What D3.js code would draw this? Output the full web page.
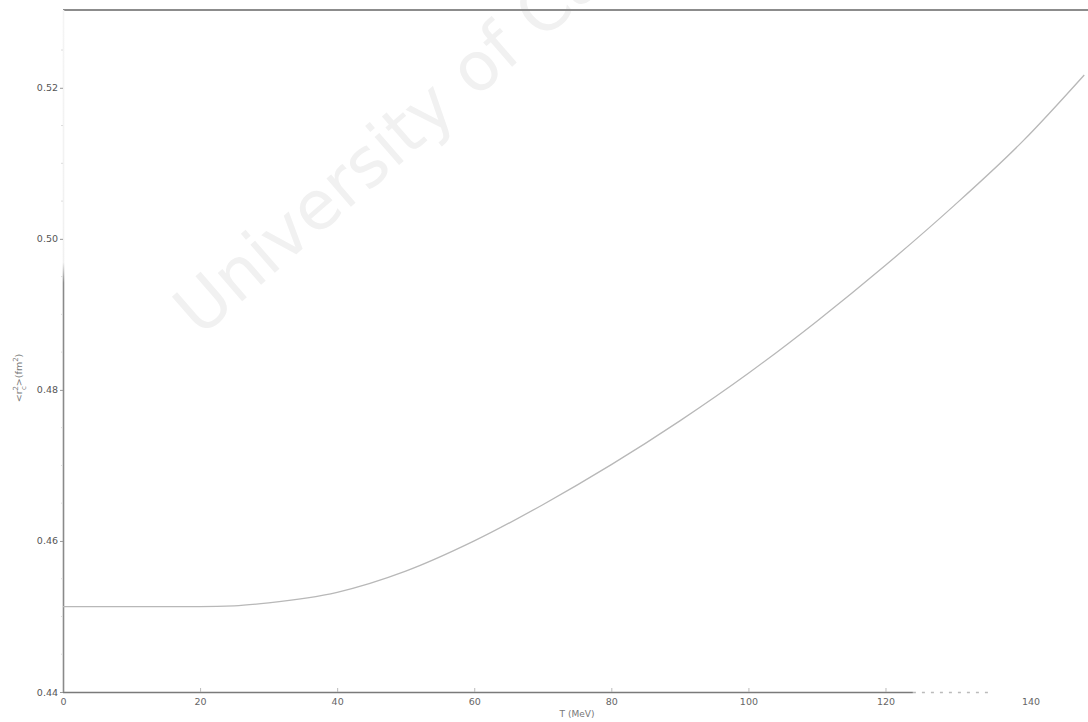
<!DOCTYPE html>
<html>
<head>
<meta charset="utf-8">
<script src="https://cdn.jsdelivr.net/npm/d3@7"></script>
<style>
  html, body { margin: 0; padding: 0; background: #fff; }
  svg { display: block; }
  text { font-family: "DejaVu Sans", sans-serif; }
</style>
</head>
<body>
<svg id="chart" width="1088" height="722"></svg>
<script>
// Mean square charge radius against temperature
const temperature = [0, 10, 20, 25, 30, 40, 50, 60, 70, 80, 90, 100, 110, 120, 130, 140, 149];
const radiusSq   = [0.4513, 0.4513, 0.4513, 0.4514, 0.4518, 0.4532, 0.4560, 0.4600, 0.4648,
                    0.4701, 0.4759, 0.4822, 0.4891, 0.4965, 0.5044, 0.5129, 0.5217];
const xTicks = [0, 20, 40, 60, 80, 100, 120, 140];
const yTicks = [0.44, 0.46, 0.48, 0.50, 0.52];
const yMinorTicks = [0.445, 0.45, 0.455, 0.465, 0.47, 0.475, 0.485, 0.49, 0.495, 0.505, 0.51, 0.515, 0.525];

const svg = d3.select("#chart");
const plotLeft = 63, plotRight = 1087, plotTop = 10, plotBottom = 692;

const x = d3.scaleLinear().domain([0, 149.4]).range([plotLeft, plotRight]);
const y = d3.scaleLinear().domain([0.44, 0.5303]).range([plotBottom, plotTop]);

// faint diagonal watermark
svg.append("text")
  .attr("transform", "translate(200,338) rotate(-41)")
  .attr("font-size", 68)
  .attr("fill", "#f1f1f1")
  .attr("font-family", "Liberation Sans, Arial, sans-serif")
  .text("University of Cape Town");

// left axis line fades toward the top
const defs = svg.append("defs");
const grad = defs.append("linearGradient")
  .attr("id", "leftFade").attr("gradientUnits", "userSpaceOnUse")
  .attr("x1", 0).attr("y1", plotTop).attr("x2", 0).attr("y2", plotBottom);
grad.append("stop").attr("offset", "0").attr("stop-color", "#f4f4f4");
grad.append("stop").attr("offset", "0.37").attr("stop-color", "#f0f0f0");
grad.append("stop").attr("offset", "0.40").attr("stop-color", "#8a8a8a");
grad.append("stop").attr("offset", "1").attr("stop-color", "#8a8a8a");

// top frame line
svg.append("line")
  .attr("x1", plotLeft).attr("x2", 1088).attr("y1", plotTop).attr("y2", plotTop)
  .attr("stroke", "#8c8c8c").attr("stroke-width", 2);

// bottom axis
const xAxis = d3.axisBottom(x).tickValues(xTicks).tickSize(-4).tickPadding(6)
  .tickFormat(d3.format("d"));
const gx = svg.append("g").attr("transform", `translate(0,${plotBottom})`).call(xAxis);
gx.select(".domain").attr("d", `M${plotLeft},0.5H${x(124)}`).attr("stroke", "#7a7a7a").attr("stroke-width", 1.6);
gx.append("path").attr("d", `M${x(124)},0.5H${x(135)}`)
  .attr("stroke", "#bbbbbb").attr("stroke-width", 1.4).attr("stroke-dasharray", "3,6").attr("fill", "none");
gx.selectAll(".tick line").attr("stroke", "#bbbbbb");
gx.selectAll(".tick").filter(d => d === 140).select("line").remove();
gx.selectAll(".tick text").attr("fill", "#666").attr("font-size", 9.5);
gx.selectAll(".tick").filter(d => d === 140).select("text").attr("dx", 8);

// left axis
const yAxis = d3.axisLeft(y).tickValues(yTicks).tickSize(3).tickPadding(2)
  .tickFormat(d3.format(".2f"));
const gy = svg.append("g").attr("transform", `translate(${plotLeft},0)`).call(yAxis);
gy.select(".domain").attr("d", `M0.5,${plotTop}V${plotBottom}`).attr("stroke", "url(#leftFade)").attr("stroke-width", 1.6);
gy.selectAll(".tick line").attr("stroke", "#999");
gy.selectAll(".tick text").attr("fill", "#555").attr("font-size", 9.5);

const gMinor = svg.append("g");
gMinor.selectAll("line").data(yMinorTicks).join("line")
  .attr("x1", plotLeft - 2).attr("x2", plotLeft).attr("y1", d => y(d)).attr("y2", d => y(d))
  .attr("stroke", "#dddddd");

// curve
const line = d3.line().x((d, i) => x(temperature[i])).y(d => y(d)).curve(d3.curveMonotoneX);
svg.append("path")
  .datum(radiusSq)
  .attr("d", line)
  .attr("fill", "none")
  .attr("stroke", "#b8b8b8")
  .attr("stroke-width", 1.3);

// axis titles
svg.append("text")
  .attr("x", 577).attr("y", 717)
  .attr("text-anchor", "middle")
  .attr("font-size", 9)
  .attr("fill", "#777")
  .text("T (MeV)");

const yt = svg.append("text")
  .attr("transform", "translate(22,378) rotate(-90)")
  .attr("text-anchor", "middle")
  .attr("font-size", 9.5)
  .attr("fill", "#777");
yt.append("tspan").text("<r");
yt.append("tspan").attr("baseline-shift", "super").attr("font-size", 7).text("2");
yt.append("tspan").attr("dx", -4).attr("baseline-shift", "sub").attr("font-size", 7).text("c");
yt.append("tspan").text(">(fm");
yt.append("tspan").attr("baseline-shift", "super").attr("font-size", 7).text("2");
yt.append("tspan").text(")");
</script>
</body>
</html>
